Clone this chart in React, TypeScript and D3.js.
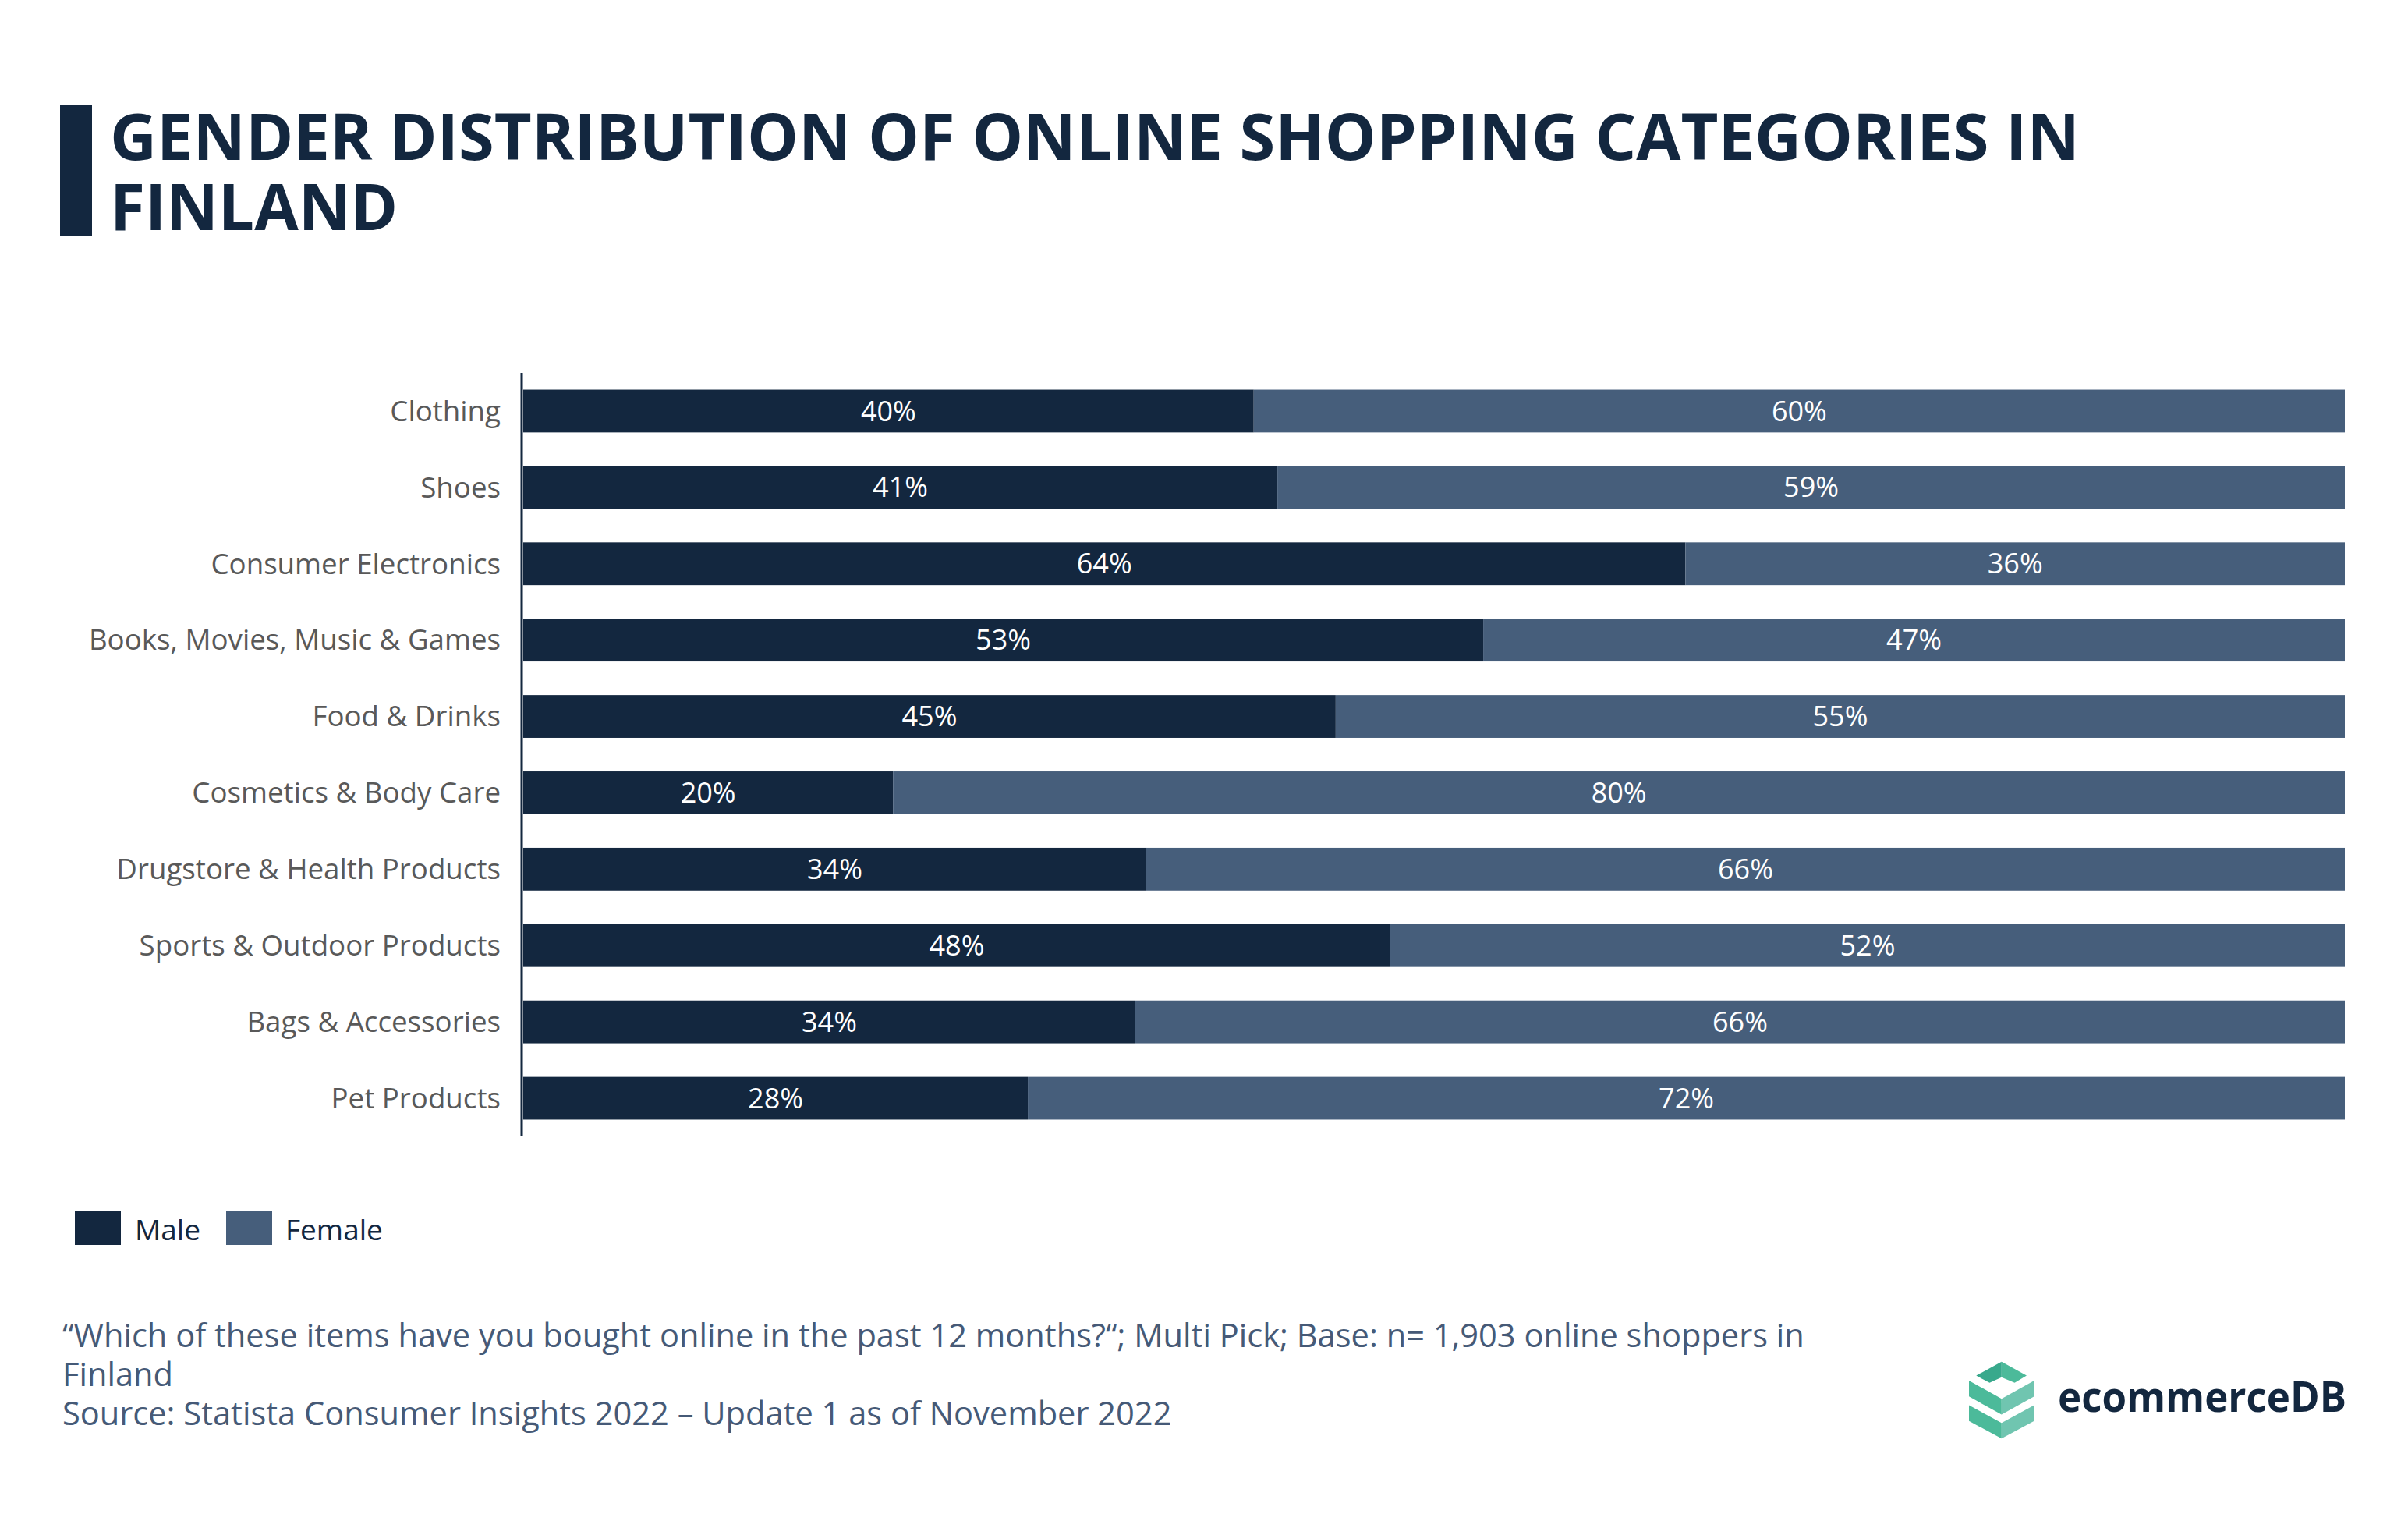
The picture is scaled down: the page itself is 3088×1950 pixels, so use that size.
import React from "react";
import * as d3 from "d3";

const categories = [
  "Clothing",
  "Shoes",
  "Consumer Electronics",
  "Books, Movies, Music & Games",
  "Food & Drinks",
  "Cosmetics & Body Care",
  "Drugstore & Health Products",
  "Sports & Outdoor Products",
  "Bags & Accessories",
  "Pet Products",
];
const maleShare = [40.1, 41.4, 63.8, 52.7, 44.6, 20.3, 34.2, 47.6, 33.6, 27.7];
const femaleShare = [59.9, 58.6, 36.2, 47.3, 55.4, 79.7, 65.8, 52.4, 66.4, 72.3];
const seriesNames = ["Male", "Female"];
const titleLines = ["GENDER DISTRIBUTION OF ONLINE SHOPPING CATEGORIES IN", "FINLAND"];
const footerLines = [
  "\u201CWhich of these items have you bought online in the past 12 months?\u201C; Multi Pick; Base: n= 1,903 online shoppers in",
  "Finland",
  "Source: Statista Consumer Insights 2022 \u2013 Update 1 as of November 2022",
];

const MALE = "#13273f";
const FEMALE = "#465e7b";
const FONT = "'Open Sans', sans-serif";

export default function App() {
  const W = 3088, H = 1950;
  const x = d3.scaleLinear().domain([0, 100]).range([671, 3007]);
  const y = d3.scaleBand<string>().domain(categories).range([478, 1457]).paddingInner(0.44).paddingOuter(0.22);
  const colors = [MALE, FEMALE];
  const rows = categories.map((c, i) => {
    const m = maleShare[i], f = femaleShare[i];
    return { c, segs: [{ s: 0, e: m, v: m }, { s: m, e: m + f, v: f }] };
  });

  const iconPts = {
    top: [[152,122],[243,72],[333,122],[290,148],[243,128],[200,148]],
    mid: [[126,140],[243,205],[360,140],[360,197],[243,262],[126,197]],
    bot: [[126,228],[243,292],[360,228],[360,285],[243,348],[126,285]],
  };
  const tp = (p: number[]) => [2480 + p[0] / 2.8, 1720 + p[1] / 2.8];
  const polyStr = (pts: number[][]) => pts.map(tp).map((q) => q.join(",")).join(" ");
  const halves = (pts: number[][]) => ({
    L: [pts[0], pts[1], pts[4], pts[5]],
    R: [pts[1], pts[2], pts[3], pts[4]],
  });
  const topH = halves(iconPts.top);
  const midH = halves(iconPts.mid);
  const botH = halves(iconPts.bot);

  return (
    <svg width={W} height={H} style={{ position: "absolute", left: 0, top: 0, background: "#fff" }} fontFamily={FONT}>
      <rect x={0} y={0} width={W} height={H} fill="#fff" />
      {/* title */}
      <rect x={77} y={134} width={41} height={169} fill={MALE} />
      {titleLines.map((t, i) => (
        <text key={i} x={141} y={205 + i * 90} fontSize={82} fontWeight={700} fill={MALE}
          textLength={i === 0 ? 2526 : undefined} lengthAdjust="spacingAndGlyphs">{t}</text>
      ))}
      {/* bars */}
      {rows.map((r) => (
        <g key={r.c}>
          {r.segs.map((s, j) => (
            <rect key={j} x={x(s.s)} y={y(r.c)!} width={x(s.e) - x(s.s)} height={y.bandwidth()} fill={colors[j]} />
          ))}
          {r.segs.map((s, j) => (
            <text key={"t" + j} x={(x(s.s) + x(s.e)) / 2} y={y(r.c)! + y.bandwidth() / 2} dy="0.35em"
              textAnchor="middle" fontSize={36} fill="#fff">{Math.round(s.v)}%</text>
          ))}
          <text x={642} y={y(r.c)! + y.bandwidth() / 2} dy="0.35em" textAnchor="end" fontSize={36.7} fill="#595959">{r.c}</text>
        </g>
      ))}
      <line x1={669} x2={669} y1={478} y2={1457} stroke={MALE} strokeWidth={3} />
      {/* legend */}
      <rect x={96} y={1552} width={59} height={44} fill={MALE} />
      <text x={173} y={1590} fontSize={37} fill={MALE}>{seriesNames[0]}</text>
      <rect x={290} y={1552} width={59} height={44} fill={FEMALE} />
      <text x={366} y={1590} fontSize={37} fill={MALE}>{seriesNames[1]}</text>
      {/* footer */}
      {footerLines.map((t, i) => (
        <text key={i} x={80} y={1727 + i * 50} fontSize={41.6} fill="#465a77">{t}</text>
      ))}
      {/* logo */}
      <polygon points={polyStr(topH.L)} fill="#38a98c" />
      <polygon points={polyStr(topH.R)} fill="#4cba9a" />
      <polygon points={polyStr(midH.L)} fill="#4cba9a" />
      <polygon points={polyStr(midH.R)} fill="#70c5b0" />
      <polygon points={polyStr(botH.L)} fill="#4cba9a" />
      <polygon points={polyStr(botH.R)} fill="#70c5b0" />
      <text x={2639} y={1810} fontSize={54} fontWeight={700} fill={MALE} textLength={370} lengthAdjust="spacingAndGlyphs">ecommerceDB</text>
    </svg>
  );
}
